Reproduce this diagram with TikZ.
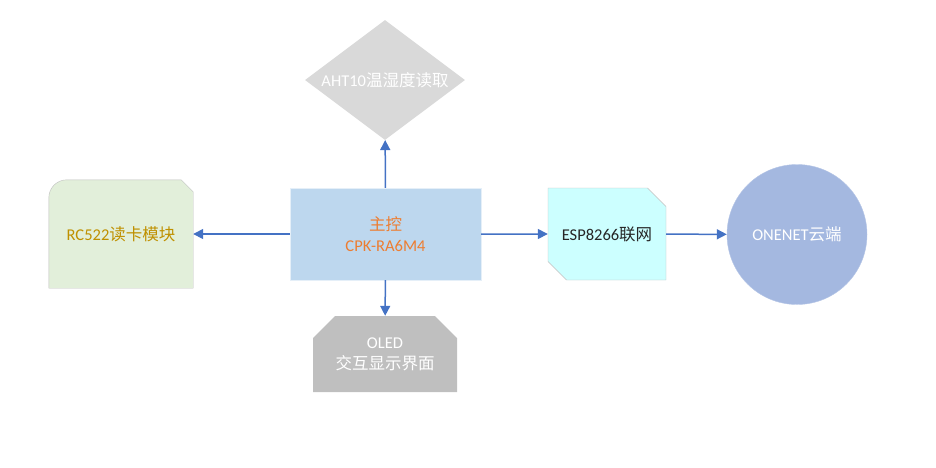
\documentclass[tikz,border=0pt]{standalone}
\usepackage{fontspec}
\setmainfont{Carlito}
\newfontfamily\cjk{Noto Sans CJK SC}
\usetikzlibrary{shapes.geometric,shapes.misc,backgrounds,calc,arrows.meta}
\definecolor{linkblue}{HTML}{4472C4}
\definecolor{rcgreen}{HTML}{E2EFDA}
\definecolor{rcgold}{HTML}{BF9000}
\definecolor{mainblue}{HTML}{BDD7EE}
\definecolor{mainorange}{HTML}{ED7D31}
\definecolor{espcyan}{HTML}{CCFFFF}
\definecolor{cloudblue}{HTML}{A4B8E0}
\definecolor{edgegray}{HTML}{BFBFBF}
\tikzset{
  box/.style={inner sep=0pt, align=center},
  link/.style={-{Triangle[length=10pt,width=10pt]}, draw=linkblue, line width=1.5pt}
}
\begin{document}
\begin{tikzpicture}[x=1pt, y=-1pt, font=\fontsize{16.5}{21}\selectfont]
  \useasboundingbox (0,0) rectangle (936,467);
  % main controller
  \node[box, fill=mainblue, draw=mainblue!40!white, minimum width=191pt, minimum height=92pt,
        text=mainorange] (main) at (385.5,234) {{\cjk 主控}\\CPK-RA6M4};
  % sensor
  \node[box, diamond, aspect=1.333, fill=gray!30, minimum width=160pt, minimum height=120pt,
        text=white] (aht) at (385,80) {AHT10{\cjk 温湿度读取}};
  % card reader
  \node[box, minimum width=144pt, minimum height=108pt, text=rcgold] (rc) at (121,234)
        {RC522{\cjk 读卡模块}};
  % display
  \node[box, chamfered rectangle, chamfered rectangle corners={north west,north east},
        chamfered rectangle sep=11pt, fill=gray!50, minimum width=144pt, minimum height=76pt,
        text=white] (oled) at (385,354) {OLED\\{\cjk 交互显示界面}};
  % wifi
  \node[box, chamfered rectangle, chamfered rectangle corners={north east,south west},
        chamfered rectangle sep=11pt, fill=espcyan, draw=edgegray, minimum width=118pt,
        minimum height=92pt, text=black!85] (esp) at (607,234) {ESP8266{\cjk 联网}};
  % cloud
  \node[box, circle, fill=cloudblue, draw=cloudblue!80!white, minimum size=140pt,
        text=white] (cloud) at (797,234.5) {ONENET{\cjk 云端}};
  \begin{scope}[on background layer]
    \filldraw[fill=rcgreen, draw=edgegray] (rc.south west) [rounded corners=18pt] -- (rc.north west)
      [sharp corners] -- ($(rc.north east)+(-12,0)$) -- ($(rc.north east)+(0,12)$)
      -- (rc.south east) -- cycle;
  \end{scope}
  % links
  \draw[link] (main) -- (rc);
  \draw[link] (main) -- (aht);
  \draw[link] (main) -- (oled);
  \draw[link] (main) -- (esp);
  \draw[link] (esp) -- (cloud);
\end{tikzpicture}
\end{document}
